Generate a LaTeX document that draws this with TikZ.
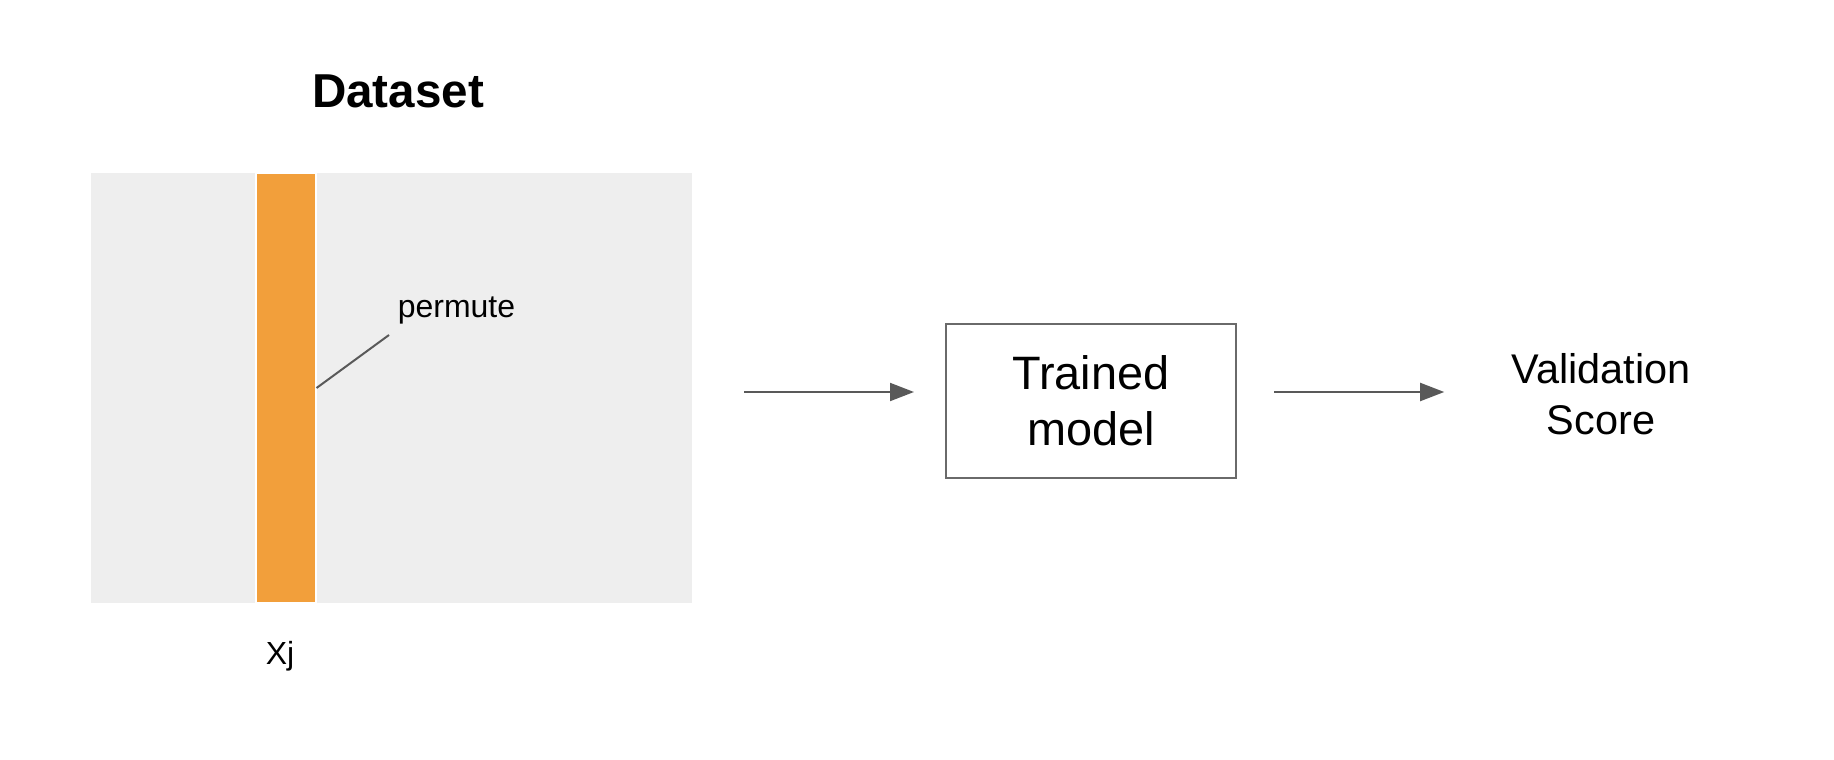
\documentclass[tikz,border=0pt]{standalone}
\usepackage{fontspec}
\setmainfont{Liberation Sans}
\usepackage{tikz}
\usetikzlibrary{arrows.meta, positioning}

\definecolor{sheet}{HTML}{EEEEEE}
\definecolor{feature}{HTML}{F29F3B}
\definecolor{wire}{HTML}{595959}

\begin{document}
\begin{tikzpicture}[x=0.03cm, y=-0.03cm,
    flow/.style={color=wire, line width=1.7pt, -{Triangle[length=0.72cm, width=0.54cm]}},
    label/.style={font=\fontsize{27.3pt}{32pt}\selectfont}]
    \useasboundingbox (0,0) rectangle (1834,760);

    % dataset with the permuted column
    \node[fill=sheet, minimum width=18.03cm, minimum height=12.9cm] (data) at (391.5,388) {};
    \node[fill=feature, draw=white, line width=0.9pt, minimum width=1.8cm, minimum height=12.9cm] (col) at (286,388) {};
    \node[font=\fontsize{40.6pt}{48pt}\selectfont\bfseries] (title) at (398,91) {Dataset};
    \node[label] (xj) at (280,656) {Xj};
    \node[label, anchor=south west, inner xsep=7.3pt, inner ysep=9.3pt] (permute) at (389,335) {permute};
    \draw[wire, line width=1.7pt] (col.east) -- (permute.south west);

    % model and score
    \node[draw=wire!90, line width=1.7pt, minimum width=8.7cm, minimum height=4.62cm, align=center,
          font=\fontsize{40pt}{48pt}\selectfont] (model) at (1091,401) {Trained\\model};
    \node[inner sep=0pt, align=center, font=\fontsize{35.4pt}{43pt}\selectfont] (score) at (1601,394) {Validation\\Score};

    \coordinate (a1) at (744,392);
    \path
    (a1) edge [flow, shorten >=0.93cm] (a1 -| model.west)
    (a1 -| model.east) edge [flow, shorten <=1.11cm, shorten >=2.01cm] (a1 -| score.west);
\end{tikzpicture}
\end{document}
